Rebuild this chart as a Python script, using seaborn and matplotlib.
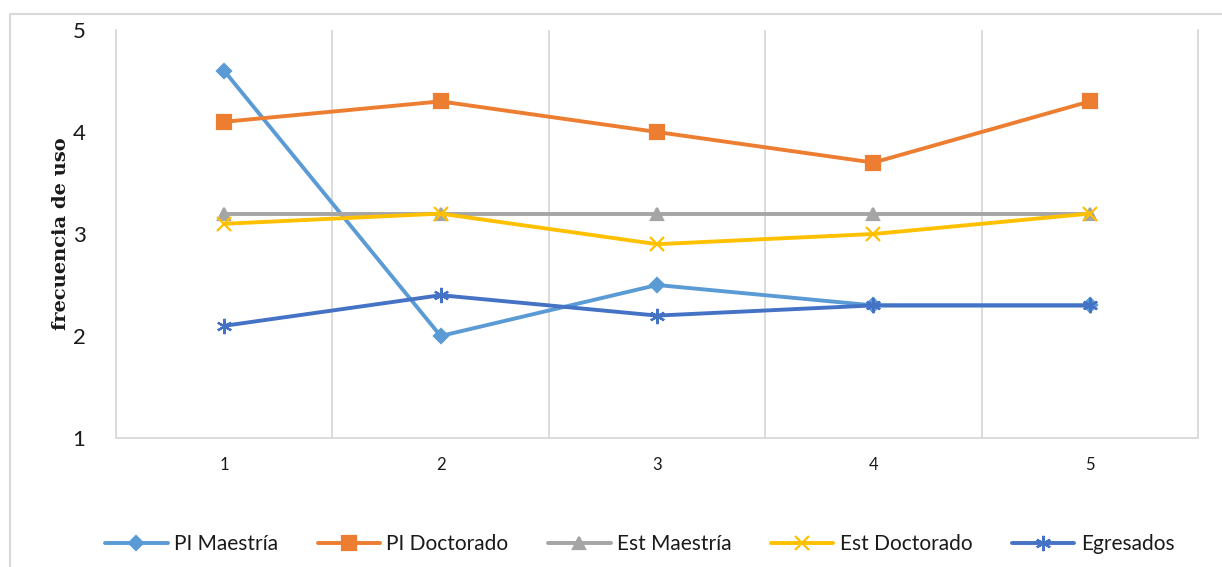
import pandas as pd
import matplotlib.pyplot as plt
import seaborn as sns
from matplotlib.patches import Rectangle

# Datos
x_vals = [1, 2, 3, 4, 5]
pi_maestria = [4.6, 2.0, 2.5, 2.3, 2.3]
pi_doctorado = [4.1, 4.3, 4.0, 3.7, 4.3]
est_maestria = [3.2, 3.2, 3.2, 3.2, 3.2]
est_doctorado = [3.1, 3.2, 2.9, 3.0, 3.2]
egresados = [2.1, 2.4, 2.2, 2.3, 2.3]

series_names = ['PI Maestría', 'PI Doctorado', 'Est Maestría', 'Est Doctorado', 'Egresados']
series_vals = [pi_maestria, pi_doctorado, est_maestria, est_doctorado, egresados]
colors = ['#5B9BD5', '#ED7D31', '#A5A5A5', '#FFC000', '#4472C4']
markers = ['D', 's', '^', 'x', (6, 2, 0)]
msizes = [7, 10, 9, 10, 11]

rows = []
for name, vals in zip(series_names, series_vals):
    for x, v in zip(x_vals, vals):
        rows.append({'x': x, 'valor': v, 'serie': name})
df = pd.DataFrame(rows)

sns.set_style('white')
plt.rcParams['font.family'] = ['Lato', 'DejaVu Sans']
plt.rcParams['text.color'] = '#1a1a1a'

fig = plt.figure(figsize=(12.22, 5.67), dpi=100)
ax = fig.add_axes([116 / 1222, 129 / 567, 1082 / 1222, 408 / 567])

# borde exterior del grafico
fig.patches.append(Rectangle((10 / 1222, -0.1), 1.2, (567 - 14) / 567 + 0.1,
                             transform=fig.transFigure, fill=False,
                             edgecolor='#D9D9D9', linewidth=1.5))

for name, c, m, ms in zip(series_names, colors, markers, msizes):
    d = df[df['serie'] == name]
    sns.lineplot(data=d, x='x', y='valor', ax=ax, color=c, linewidth=2.8,
                 marker=m, markersize=ms, markeredgecolor=c, markeredgewidth=1.6,
                 label=name)

ax.set_xlim(0.5, 5.5)
ax.set_ylim(1, 5)
ax.set_xticks(x_vals)
ax.set_yticks([1, 2, 3, 4, 5])
ax.tick_params(axis='x', labelsize=12, length=0, pad=14, labelcolor='#1a1a1a')
ax.tick_params(axis='y', labelsize=16, length=0, pad=22, labelcolor='#1a1a1a')

for xv in [1.5, 2.5, 3.5, 4.5]:
    ax.axvline(xv, color='#D9D9D9', linewidth=1.3, zorder=0)

for side in ['left', 'bottom', 'right']:
    ax.spines[side].set_color('#D9D9D9')
    ax.spines[side].set_linewidth(1.3)
ax.spines['top'].set_visible(False)

ax.set_xlabel('')
ax.set_ylabel('frecuencia de uso', fontsize=14, fontweight='bold',
              family=['DejaVu Serif'], labelpad=2, color='#1a1a1a')

ax.legend(loc='upper center', bbox_to_anchor=(0.484, -0.19), ncol=5, frameon=False,
          fontsize=15, handlelength=3.0, columnspacing=1.9, handletextpad=0.3)

plt.savefig('out.png', dpi=100)
